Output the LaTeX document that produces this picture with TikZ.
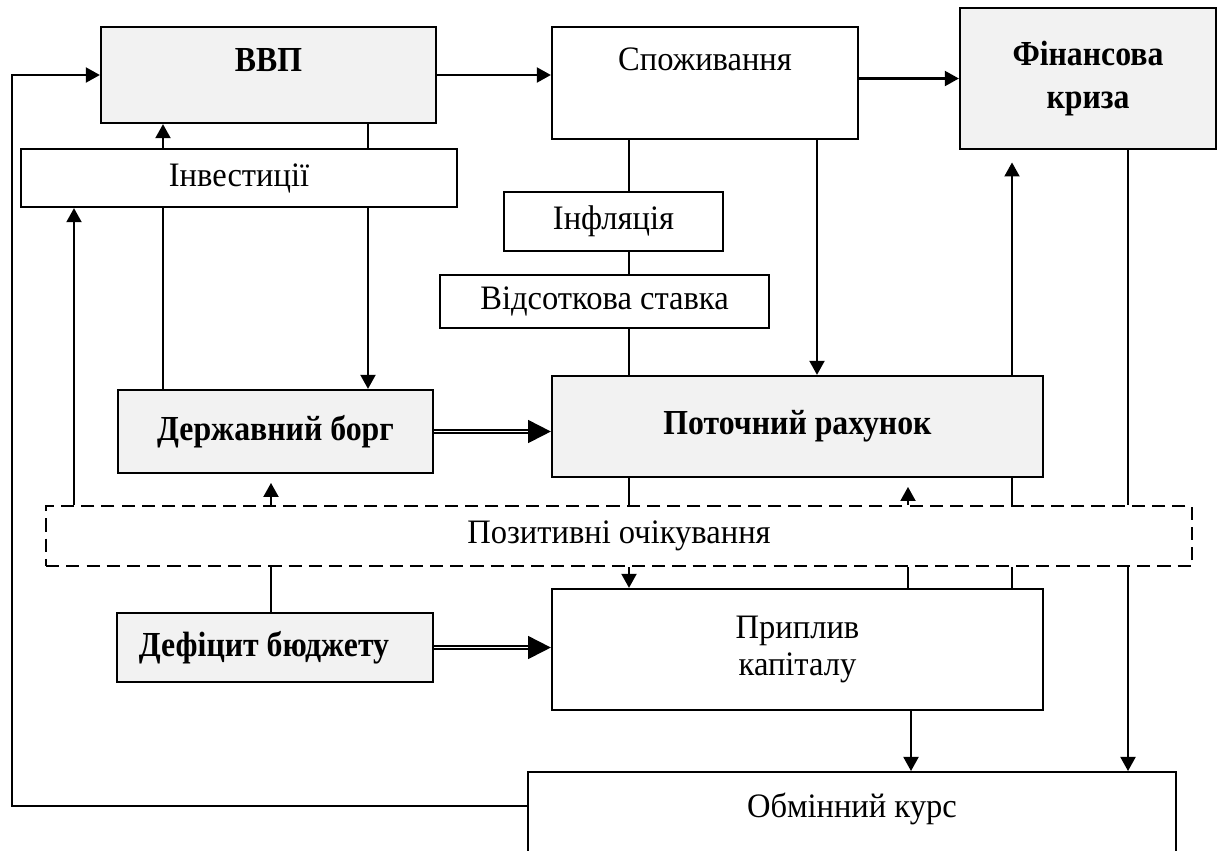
\documentclass[tikz,border=0pt]{standalone}
\usepackage{fontspec}
\setmainfont{Liberation Serif}[UprightFeatures={FakeStretch=0.95},BoldFeatures={FakeStretch=0.905}]
\usetikzlibrary{arrows.meta}
\definecolor{boxgray}{RGB}{242,242,242}

\begin{document}
\begin{tikzpicture}
[x=0.02cm,y=-0.02cm,line width=1.3pt,
 every node/.style={draw,line width=1.3pt,inner sep=0pt,font=\fontsize{19.5}{21}\selectfont},
 graybox/.style={fill=boxgray,font=\fontsize{20}{24.5}\selectfont\bfseries},
 dashbox/.style={dash pattern=on 7.5pt off 4pt},
 arr/.style={-{Triangle[length=8pt,width=8.5pt]}},
 dbl/.style={double,double distance=1.1pt,line width=1.1pt,-{Triangle[length=13pt,width=13pt]}}]
\useasboundingbox (0,0) rectangle (1220,850);
\clip (0,0) rectangle (1220,850);

\node[graybox,minimum width=6.7cm,minimum height=1.92cm,text height=0.88cm,text depth=1.04cm] (gdp) at (268.5,75) {ВВП};
\node[minimum width=6.12cm,minimum height=2.24cm,text height=0.86cm,text depth=1.38cm] (cons) at (705,83) {Споживання};
\node[graybox,minimum width=5.12cm,minimum height=2.82cm,align=center] (crisis) at (1088,78.5) {Фінансова\\криза};
\node[minimum width=8.72cm,minimum height=1.16cm] (invest) at (239,178) {Інвестиції};
\node[minimum width=4.38cm,minimum height=1.18cm] (infl) at (613.5,221.5) {Інфляція};
\node[minimum width=6.58cm,minimum height=1.06cm] (rate) at (604.5,301.5) {Відсоткова ставка};
\node[graybox,minimum width=6.3cm,minimum height=1.66cm] (debt) at (275.5,431.5) {Державний борг};
\node[graybox,minimum width=9.82cm,minimum height=2.02cm] (current) at (797.5,426.5) {Поточний рахунок};
\node[dashbox,minimum width=22.92cm,minimum height=1.2cm] (expect) at (619,536) {Позитивні очікування};
\node[graybox,minimum width=6.32cm,minimum height=1.38cm] (deficit) at (275,647.5) {Дефіцит бюджету\kern0.44cm};
\node[minimum width=9.82cm,minimum height=2.42cm,align=center] (inflow) at (797.5,649.5) {Приплив\\капіталу};
\node[anchor=north,minimum width=12.96cm,minimum height=2.8cm,text height=0.9cm,text depth=1.9cm] (exch) at (852,771) {Обмінний курс};
\coordinate (back) at (12,806);

% top row
\draw[arr] (gdp.east) -- (cons.west |- gdp.east);
\draw[arr] (cons.east |- crisis.west) -- (crisis.west);
\draw[arr] (back -| exch.west) -- (back) |- (gdp.west);

% left column
\draw[arr] (invest.north -| 163,0) -- (gdp.south -| 163,0);
\draw (gdp.south -| 368,0) -- (invest.north -| 368,0);
\draw[arr] (invest.south -| 368,0) -- (debt.north -| 368,0);
\draw (debt.north -| 163,0) -- (invest.south -| 163,0);
\draw[arr] (expect.north -| 74,0) -- (invest.south -| 74,0);
\draw[arr,shorten >=5pt] (expect.north -| 271,0) -- (debt.south -| 271,0);
\draw (deficit.north -| 271,0) -- (expect.south -| 271,0);
\draw[dbl] (debt.east) -- (current.west |- debt.east);
\draw[dbl] (deficit.east) -- (inflow.west |- deficit.east);

% middle column
\draw (cons.south -| 629,0) -- (infl.north -| 629,0);
\draw (infl.south -| 629,0) -- (rate.north -| 629,0);
\draw (rate.south -| 629,0) -- (current.north -| 629,0);
\draw[arr] (cons.south -| 817,0) -- (current.north -| 817,0);
\draw (current.south -| 629,0) -- (expect.north -| 629,0);
\draw[arr] (expect.south -| 629,0) -- (inflow.north -| 629,0);

% right column
\draw[arr,shorten >=7pt] (current.north -| 1012,0) -- (crisis.south -| 1012,0);
\draw (current.south -| 1012,0) -- (expect.north -| 1012,0);
\draw[arr,shorten >=5pt] (expect.north -| 908,0) -- (current.south -| 908,0);
\draw (inflow.north -| 908,0) -- (expect.south -| 908,0);
\draw (inflow.north -| 1012,0) -- (expect.south -| 1012,0);
\draw (crisis.south -| 1128,0) -- (expect.north -| 1128,0);
\draw[arr] (expect.south -| 1128,0) -- (exch.north -| 1128,0);
\draw[arr] (inflow.south -| 911,0) -- (exch.north -| 911,0);
\end{tikzpicture}
\end{document}
